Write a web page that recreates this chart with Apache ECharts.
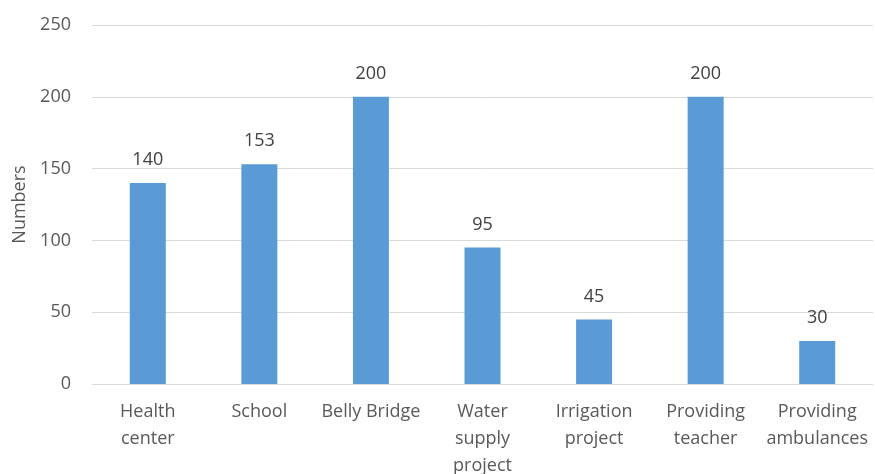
<!DOCTYPE html>
<html>
<head>
<meta charset="utf-8">
<script src="https://cdn.jsdelivr.net/npm/echarts@6/dist/echarts.min.js"></script>
<style>html,body{margin:0;padding:0;background:#fff;}#c{width:875px;height:474px;}</style>
</head>
<body>
<div id="c"></div>
<script>
var categories = ["Health\ncenter", "School", "Belly Bridge", "Water\nsupply\nproject", "Irrigation\nproject", "Providing\nteacher", "Providing\nambulances"];
var values = [140, 153, 200, 95, 45, 200, 30];
var yTicks = [0, 50, 100, 150, 200, 250];
var yName = "Numbers";

var chart = echarts.init(document.getElementById('c'));
var font = '"Open Sans", "Noto Sans", sans-serif';
chart.setOption({
  animation: false,
  grid: { left: 92, right: 2, top: 25, bottom: 90, outerBoundsMode: 'none', containLabel: false },
  xAxis: {
    type: 'category',
    data: categories,
    axisLine: { lineStyle: { color: '#d9d9d9', width: 1 } },
    axisTick: { show: false },
    axisLabel: { color: '#595959', fontSize: 18, fontFamily: font, lineHeight: 27, margin: 14, interval: 0 }
  },
  yAxis: {
    type: 'value',
    min: yTicks[0], max: yTicks[yTicks.length - 1], interval: 50,
    name: yName, nameLocation: 'middle', nameGap: 63, nameRotate: 90,
    nameTextStyle: { color: '#595959', fontSize: 18, fontFamily: font },
    axisLine: { show: false },
    axisTick: { show: false },
    splitLine: { lineStyle: { color: '#d9d9d9', width: 1 } },
    axisLabel: { color: '#595959', fontSize: 18, fontFamily: font, margin: 21 }
  },
  series: [{
    type: 'bar',
    data: values,
    barWidth: 36,
    itemStyle: { color: '#5B9BD5' },
    label: { show: true, position: 'top', distance: 14, color: '#404040', fontSize: 18, fontFamily: font }
  }]
});
</script>
</body>
</html>
